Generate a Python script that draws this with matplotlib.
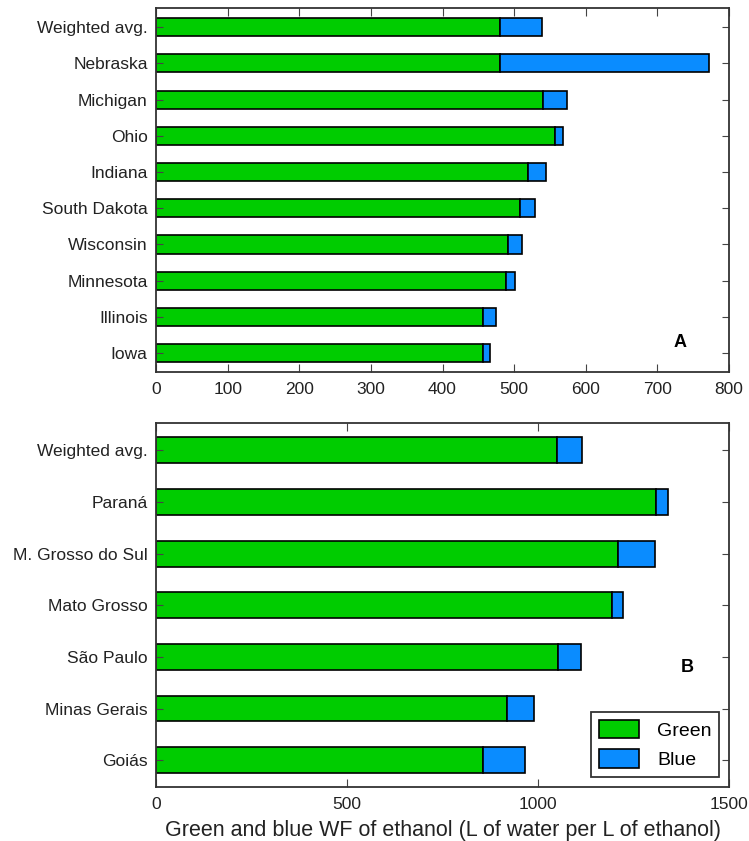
import numpy as np
import matplotlib
matplotlib.use("Agg")
import matplotlib.pyplot as plt

plt.rcParams['font.family'] = ['Liberation Sans', 'DejaVu Sans']

# US states (panel A), listed bottom to top
us_states = ["Iowa", "Illinois", "Minnesota", "Wisconsin", "South Dakota",
             "Indiana", "Ohio", "Michigan", "Nebraska", "Weighted avg."]
us_green = [456, 456, 488, 491, 508, 520, 557, 541, 480, 480]
us_blue = [11, 18, 13, 20, 21, 25, 11, 33, 292, 59]

# Brazilian states (panel B), listed bottom to top
br_states = ["Goiás", "Minas Gerais", "São Paulo", "Mato Grosso",
             "M. Grosso do Sul", "Paraná", "Weighted avg."]
br_green = [855, 918, 1053, 1194, 1209, 1308, 1050]
br_blue = [112, 72, 59, 28, 97, 33, 64]

GREEN = '#00cc00'
BLUE = '#0a8cff'

fig = plt.figure(figsize=(7.49, 8.41), dpi=100)
axA = fig.add_axes([0.2083, 0.5577, 0.765, 0.4328])
axB = fig.add_axes([0.2083, 0.0642, 0.765, 0.4328])


def draw_panel(ax, names, green, blue, xmax, xticks):
    y = np.arange(len(names))
    ax.barh(y, green, height=0.5, color=GREEN, edgecolor='black', linewidth=1.2, label='Green')
    ax.barh(y, blue, left=green, height=0.5, color=BLUE, edgecolor='black', linewidth=1.2, label='Blue')
    ax.set_yticks(y)
    ax.set_yticklabels(names, fontsize=12.5, color='#222222')
    ax.set_xlim(0, xmax)
    ax.set_ylim(-0.52, len(names) - 0.47)
    ax.set_xticks(xticks)
    ax.tick_params(axis='x', labelsize=12.5, labelcolor='#222222', direction='in',
                   length=6, top=True, pad=7, color='#444444')
    ax.tick_params(axis='y', direction='in', length=5, right=True, pad=6, color='#444444')
    for s in ax.spines.values():
        s.set_linewidth(1.3)
        s.set_color('#333333')


draw_panel(axA, us_states, us_green, us_blue, 800, np.arange(0, 801, 100))
draw_panel(axB, br_states, br_green, br_blue, 1500, [0, 500, 1000, 1500])

axA.text(0.914, 0.082, 'A', transform=axA.transAxes, fontsize=13, fontweight='bold',
         ha='center', va='center')
axB.text(0.928, 0.327, 'B', transform=axB.transAxes, fontsize=13, fontweight='bold',
         ha='center', va='center')

leg = axB.legend(loc='lower right', bbox_to_anchor=(0.983, 0.027), borderaxespad=0,
                 fontsize=14, fancybox=False, edgecolor='#333333', handlelength=2.1,
                 handleheight=1.1, handletextpad=0.9, labelspacing=0.5, framealpha=1)
leg.get_frame().set_linewidth(1.3)

axB.set_xlabel('Green and blue WF of ethanol (L of water per L of ethanol)',
               fontsize=15.5, color='#222222', labelpad=6)

fig.savefig('out.png', dpi=100)
